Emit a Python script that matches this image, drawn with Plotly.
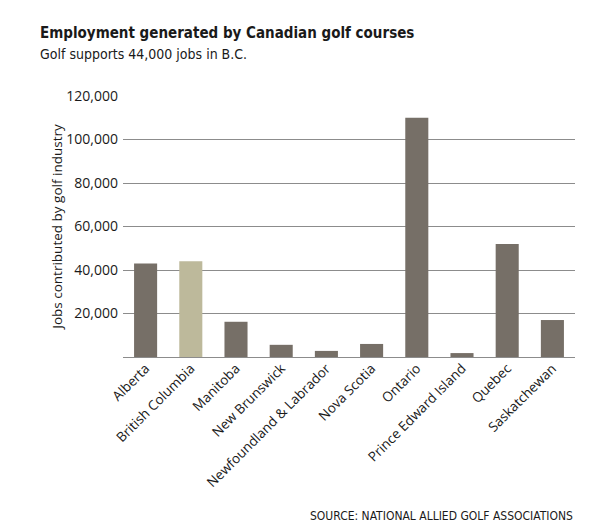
import plotly.graph_objects as go

provinces = ["Alberta", "British Columbia", "Manitoba", "New Brunswick",
             "Newfoundland & Labrador", "Nova Scotia", "Ontario",
             "Prince Edward Island", "Quebec", "Saskatchewan"]
jobs = [43000, 44000, 16200, 5600, 2800, 6000, 110000, 1800, 52000, 17000]
highlight = "British Columbia"
tick_vals = [20000, 40000, 60000, 80000, 100000, 120000]
tick_text = ["20,000", "40,000", "60,000", "80,000", "100,000", "120,000"]

colors = ["#bdb99b" if p == highlight else "#766f67" for p in provinces]

fig = go.Figure(go.Bar(x=provinces, y=jobs, marker=dict(color=colors, line=dict(width=0)),
                       hoverinfo="x+y"))

fig.update_layout(
    width=600, height=520,
    margin=dict(l=115, r=33, t=88, b=171, autoexpand=False),
    paper_bgcolor="white", plot_bgcolor="white",
    bargap=0.49,
    showlegend=False,
    font=dict(family="Open Sans", color="#1a1a1a", size=13),
)
fig.update_yaxes(range=[0, 120000], tickvals=tick_vals, ticktext=tick_text,
                 showgrid=True, gridcolor="#8c8c8c", gridwidth=1,
                 zeroline=True, zerolinecolor="#8c8c8c", zerolinewidth=1,
                 showline=False, ticks="", ticklabelstandoff=4, automargin=False,
                 tickfont=dict(size=14, color="#1a1a1a"),
                 title=dict(text="Jobs contributed by golf industry",
                            font=dict(size=13.5, color="#1a1a1a"), standoff=0))
fig.update_xaxes(tickangle=-45, showgrid=False, showline=False, ticks="", automargin=False,
                 tickfont=dict(size=13.5, color="#1a1a1a"))

fig.add_annotation(text="<b>Employment generated by Canadian golf courses</b>",
                   xref="paper", yref="paper", x=-0.188, y=1.241, xanchor="left", yanchor="middle",
                   showarrow=False, font=dict(family="DejaVu Sans Condensed", size=15, color="#1a1a1a"))
fig.add_annotation(text="Golf supports 44,000 jobs in B.C.",
                   xref="paper", yref="paper", x=-0.188, y=1.161, xanchor="left", yanchor="middle",
                   showarrow=False, font=dict(family="DejaVu Sans Condensed", size=14, color="#1a1a1a"))
fig.add_annotation(text="SOURCE: NATIONAL ALLIED GOLF ASSOCIATIONS",
                   xref="paper", yref="paper", x=1.0, y=-0.609, xanchor="right", yanchor="middle",
                   showarrow=False, font=dict(family="DejaVu Sans Condensed", size=12, color="#1a1a1a"))

fig.write_html("out.html")
